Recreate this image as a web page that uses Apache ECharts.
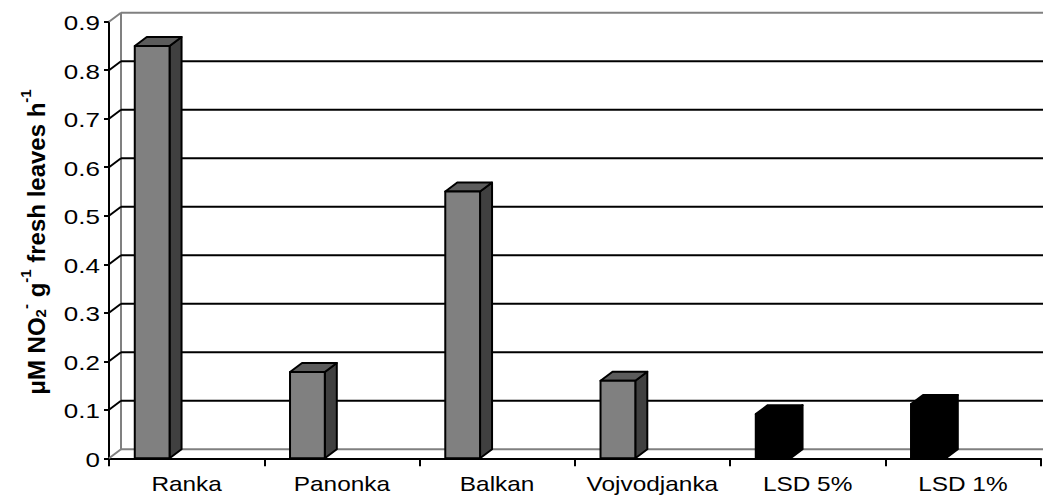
<!DOCTYPE html>
<html>
<head>
<meta charset="utf-8">
<title>Nitrite reductase activity</title>
<script src="https://cdn.jsdelivr.net/npm/echarts@6/dist/echarts.min.js"></script>
<style>
  html, body { margin: 0; padding: 0; background: #fff; }
  #chart { width: 1043px; height: 495px; }
</style>
</head>
<body>
<div id="chart"></div>
<script>
// Cultivars and LSD thresholds along the category axis
const categories = ['Ranka', 'Panonka', 'Balkan', 'Vojvodjanka', 'LSD 5%', 'LSD 1%'];
// Activity per cultivar (µM NO2- g-1 fresh leaves h-1)
const cultivarValues = [0.85, 0.178, 0.55, 0.16, null, null];
// Least significant differences
const lsdValues = [null, null, null, null, 0.091, 0.112];
// Value-axis ticks and their labels
const yTickValues = [0, 0.1, 0.2, 0.3, 0.4, 0.5, 0.6, 0.7, 0.8, 0.9];
const yTickLabels = ['0', '0.1', '0.2', '0.3', '0.4', '0.5', '0.6', '0.7', '0.8', '0.9'];

// 3-D depth offset of the back wall and of each column, in pixels
const DX = 12, DY = -9;
const FONT = '"Liberation Sans", Arial, sans-serif';

const chart = echarts.init(document.getElementById('chart'), null, { renderer: 'svg' });

function bandInfo(api, idx) {
  const bw = api.size([1, 0])[0];
  const cx = api.coord([idx, 0])[0];
  return { bw: bw, left: cx - bw / 2, cx: cx };
}

// Back wall, side wall and floor lines
function renderWall(params, api) {
  const v = api.value(1);
  const b = bandInfo(api, 0);
  const y = api.coord([0, v])[1];
  const right = b.left + b.bw * categories.length;
  const edge = (v === 0 || v === 0.9);
  const col = edge ? '#808080' : '#000';
  const children = [
    { type: 'line', shape: { x1: b.left, y1: y, x2: b.left + DX, y2: y + DY },
      style: { stroke: col, lineWidth: 2 } },
    { type: 'line', shape: { x1: b.left + DX, y1: y + DY, x2: right + DX, y2: y + DY },
      style: { stroke: col, lineWidth: 2 } }
  ];
  if (v === 0) {
    const yTop = api.coord([0, 0.9])[1];
    children.push({ type: 'line',
      shape: { x1: b.left + DX, y1: y + DY, x2: b.left + DX, y2: yTop + DY },
      style: { stroke: '#808080', lineWidth: 2 } });
  }
  return { type: 'group', children: children };
}

// Excel-style 3-D column: front, side and top faces
function makeColumnRenderer(frontFill, sideFill, topFill) {
  return function (params, api) {
    const v = api.value(1);
    if (v == null || isNaN(v)) return null;
    const idx = api.value(0);
    const b = bandInfo(api, idx);
    const x0 = b.left + b.bw * 0.166;
    const x1 = x0 + b.bw * 0.224;
    const yTop = api.coord([idx, v])[1];
    const yBase = api.coord([idx, 0])[1];
    const st = function (fill) {
      return { fill: fill, stroke: '#000', lineWidth: 2, lineJoin: 'round' };
    };
    return {
      type: 'group',
      children: [
        { type: 'polygon', shape: { points: [[x1, yTop], [x1 + DX, yTop + DY], [x1 + DX, yBase + DY], [x1, yBase]] }, style: st(sideFill) },
        { type: 'polygon', shape: { points: [[x0, yTop], [x0 + DX, yTop + DY], [x1 + DX, yTop + DY], [x1, yTop]] }, style: st(topFill) },
        { type: 'polygon', shape: { points: [[x0, yTop], [x1, yTop], [x1, yBase], [x0, yBase]] }, style: st(frontFill) }
      ]
    };
  };
}

function renderYLabel(params, api) {
  const v = api.value(1);
  const b = bandInfo(api, 0);
  const y = api.coord([0, v])[1];
  return {
    type: 'text', x: b.left - 9, y: y + 1.5, scaleX: 1.3,
    style: { text: yTickLabels[params.dataIndex], fill: '#000', fontSize: 20,
      fontFamily: FONT, align: 'right', verticalAlign: 'middle' }
  };
}

function renderXLabel(params, api) {
  const idx = api.value(0);
  const b = bandInfo(api, idx);
  const y = api.coord([idx, 0])[1];
  return {
    type: 'text', x: b.cx, y: y + 26, scaleX: 1.22,
    style: { text: categories[params.dataIndex], fill: '#000', fontSize: 20,
      fontFamily: FONT, align: 'center', verticalAlign: 'middle' }
  };
}

const option = {
  animation: false,
  backgroundColor: '#fff',
  grid: { left: 109, top: 21.7, width: 931.5, height: 436.6, containLabel: false },
  xAxis: {
    type: 'category',
    data: categories,
    boundaryGap: true,
    axisLine: { show: true, lineStyle: { color: '#000', width: 2 } },
    axisTick: { show: true, length: 8, alignWithLabel: false, lineStyle: { color: '#000', width: 2 } },
    axisLabel: { show: false },
    splitLine: { show: false }
  },
  yAxis: {
    type: 'value',
    min: 0, max: 0.9, interval: 0.1,
    axisLine: { show: true, lineStyle: { color: '#000', width: 2 } },
    axisTick: { show: true, length: 5, lineStyle: { color: '#000', width: 2 } },
    axisLabel: { show: false },
    splitLine: { show: false }
  },
  graphic: [{
    type: 'text',
    x: 33, y: 242,
    rotation: Math.PI / 2,
    style: {
      text: '{n|\u03bcM NO}{sub|2}{sup|-}{n| g}{sup|-1}{n| fresh leaves h}{sup|-1}',
      align: 'center',
      verticalAlign: 'middle',
      rich: {
        n: { fontSize: 24, fontWeight: 'bold', fontFamily: FONT, fill: '#000', lineHeight: 30, verticalAlign: 'bottom' },
        sub: { fontSize: 15, fontWeight: 'bold', fontFamily: FONT, fill: '#000', lineHeight: 30, verticalAlign: 'bottom', padding: [0, 0, 0, 0] },
        sup: { fontSize: 15, fontWeight: 'bold', fontFamily: FONT, fill: '#000', lineHeight: 30, verticalAlign: 'top' }
      }
    }
  }],
  series: [
    { type: 'custom', name: 'walls', z: 1, silent: true,
      data: yTickValues.map(function (v) { return [0, v]; }),
      encode: { x: 0, y: 1 }, renderItem: renderWall },
    { type: 'custom', name: 'Cultivars', z: 3,
      data: cultivarValues.map(function (v, i) { return [i, v]; }),
      encode: { x: 0, y: 1 }, renderItem: makeColumnRenderer('#808080', '#404040', '#5c5c5c') },
    { type: 'custom', name: 'LSD', z: 3,
      data: lsdValues.map(function (v, i) { return [i, v]; }),
      encode: { x: 0, y: 1 }, renderItem: makeColumnRenderer('#000', '#000', '#000') },
    { type: 'custom', name: 'yLabels', z: 4, silent: true,
      data: yTickValues.map(function (v) { return [0, v]; }),
      encode: { x: 0, y: 1 }, renderItem: renderYLabel },
    { type: 'custom', name: 'xLabels', z: 4, silent: true,
      data: categories.map(function (c, i) { return [i, 0]; }),
      encode: { x: 0, y: 1 }, renderItem: renderXLabel }
  ]
};

chart.setOption(option);
</script>
</body>
</html>
